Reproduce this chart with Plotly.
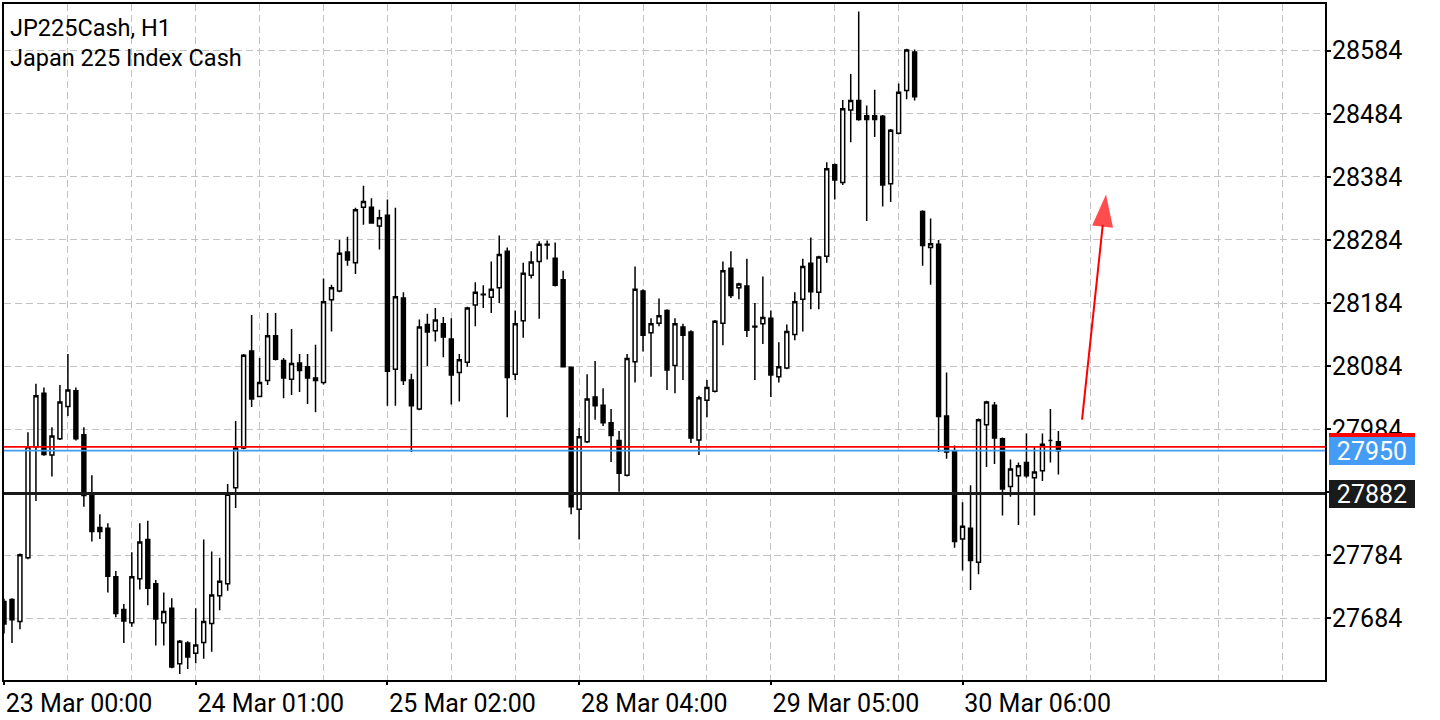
import plotly.graph_objects as go

# ---- data ----
opens = [27711, 27714, 27679, 27780, 27956, 28041, 27943, 27969, 28020, 28045,
         27975, 27882, 27828, 27827, 27750, 27698, 27677, 27747, 27809, 27739,
         27677, 27700, 27612, 27645, 27629, 27646, 27676, 27720, 27739, 27891,
         27954, 28108, 28036, 28061, 28132, 28093, 28063, 28089, 28083, 28065,
         28058, 28189, 28203, 28265, 28248, 28336, 28336, 28306, 28323, 28079,
         28192, 28062, 28016, 28150, 28140, 28151, 28127, 28074, 28090, 28181,
         28198, 28193, 28208, 28266, 28071, 28156, 28228, 28250, 28277, 28255,
         28221, 28082, 27857, 27964, 28035, 28022, 27994, 27966, 27911, 28091,
         28203, 28137, 28152, 28172, 28085, 28146, 28138, 27967, 28030, 28044,
         28152, 28239, 28208, 28211, 28147, 28151, 28160, 28067, 28081, 28134,
         28190, 28247, 28201, 28258, 28403, 28375, 28490, 28505, 28481, 28481,
         28480, 28373, 28453, 28521, 28582, 28329, 28272, 28277, 28005, 27950,
         27810, 27827, 27773, 27991, 28022, 27969, 27893, 27910, 27931, 27907,
         27918, 27966, 27964]
highs = [27715, 27716, 27787, 27979, 28056, 28050, 27987, 28054, 28103, 28050,
         27987, 27911, 27849, 27835, 27759, 27707, 27789, 27835, 27839, 27745,
         27725, 27716, 27650, 27648, 27700, 27809, 27790, 27780, 27897, 27997,
         28103, 28165, 28097, 28168, 28168, 28097, 28143, 28103, 28103, 28118,
         28223, 28213, 28284, 28289, 28335, 28370, 28350, 28332, 28348, 28335,
         28201, 28072, 28158, 28167, 28176, 28162, 28160, 28103, 28178, 28217,
         28212, 28250, 28291, 28272, 28172, 28248, 28266, 28282, 28283, 28280,
         28235, 28083, 27986, 28071, 28092, 28049, 28016, 27981, 28103, 28242,
         28206, 28160, 28191, 28174, 28160, 28151, 28141, 28037, 28062, 28157,
         28250, 28266, 28216, 28254, 28184, 28226, 28172, 28122, 28150, 28201,
         28254, 28288, 28259, 28407, 28405, 28506, 28547, 28646, 28497, 28522,
         28482, 28460, 28532, 28587, 28586, 28331, 28318, 28284, 28074, 27958,
         27868, 27895, 28001, 28029, 28027, 27971, 27936, 27931, 27977, 27956,
         27977, 28016, 27981]
lows = [27660, 27645, 27667, 27778, 27870, 27942, 27909, 27967, 28005, 27966,
        27861, 27806, 27810, 27725, 27686, 27645, 27671, 27730, 27705, 27641,
        27641, 27605, 27596, 27604, 27613, 27620, 27631, 27697, 27728, 27859,
        27952, 28019, 28035, 28054, 28093, 28033, 28038, 28043, 28024, 28011,
        28055, 28139, 28201, 28243, 28230, 28308, 28310, 28269, 28021, 28021,
        28054, 27948, 28014, 28084, 28123, 28098, 28023, 28028, 28083, 28147,
        28176, 28168, 28184, 28003, 28062, 28129, 28223, 28159, 28253, 28210,
        28082, 27849, 27809, 27962, 27999, 27989, 27932, 27885, 27909, 28058,
        28107, 28067, 28147, 28046, 28041, 28062, 27962, 27943, 28003, 28042,
        28117, 28192, 28190, 28130, 28062, 28119, 28035, 28058, 28079, 28125,
        28139, 28174, 28174, 28248, 28348, 28371, 28439, 28473, 28314, 28447,
        28337, 28344, 28451, 28507, 28505, 28243, 28213, 27948, 27937, 27796,
        27760, 27729, 27754, 27924, 27929, 27847, 27877, 27832, 27907, 27847,
        27902, 27931, 27912]
closes = [27675, 27682, 27785, 27956, 28037, 27944, 27973, 28027, 28046, 27969,
          27879, 27822, 27822, 27751, 27692, 27680, 27750, 27805, 27732, 27683,
          27695, 27607, 27648, 27623, 27642, 27679, 27721, 27743, 27881, 27954,
          28101, 28032, 28058, 28132, 28095, 28065, 28088, 28077, 28065, 28061,
          28186, 28208, 28263, 28252, 28332, 28345, 28311, 28319, 28076, 28194,
          28061, 28021, 28146, 28138, 28157, 28130, 28070, 28094, 28176, 28201,
          28197, 28206, 28261, 28066, 28151, 28231, 28249, 28277, 28276, 28212,
          28083, 27861, 27972, 28032, 28021, 27994, 27974, 27914, 28096, 28206,
          28133, 28151, 28164, 28078, 28151, 28133, 27970, 28034, 28050, 28155,
          28235, 28196, 28214, 28141, 28146, 28161, 28070, 28083, 28139, 28186,
          28242, 28202, 28257, 28397, 28379, 28492, 28505, 28475, 28475, 28475,
          28371, 28458, 28518, 28585, 28511, 28275, 28278, 28004, 27948, 27806,
          27830, 27776, 27999, 28027, 27970, 27889, 27921, 27926, 27910, 27916,
          27960, 27966, 27950]
bar_index = list(range(len(closes)))

tick_index = [0, 24, 48, 72, 96, 120]
tick_labels = ["23 Mar 00:00", "24 Mar 01:00", "25 Mar 02:00",
               "28 Mar 04:00", "29 Mar 05:00", "30 Mar 06:00"]
price_ticks = [27684, 27784, 27884, 27984, 28084, 28184, 28284, 28384, 28484, 28584]

ask_price = 27956
bid_price = 27950
level_price = 27882

arrow_x = [134.96, 137.96]
arrow_y = [27999, 28356]

title_lines = ["JP225Cash, H1", "Japan 225 Index Cash"]

FONT = "Roboto"
GRID = "#c3c3c3"
BLUE = "#459cf5"
AXFONT = 25

fig = go.Figure()

fig.add_trace(go.Candlestick(
    x=bar_index, open=opens, high=highs, low=lows, close=closes,
    increasing=dict(fillcolor="white", line=dict(color="black", width=1.5)),
    decreasing=dict(fillcolor="black", line=dict(color="black", width=1.5)),
    whiskerwidth=0, showlegend=False, hoverinfo="skip",
))

# user-drawn red arrow
fig.add_trace(go.Scatter(
    x=arrow_x, y=arrow_y, mode="lines+markers",
    line=dict(color="red", width=2),
    marker=dict(symbol=["circle", "arrow"], size=[0, 34], color="red",
                angleref="previous", line=dict(width=0)),
    showlegend=False, hoverinfo="skip",
))

# horizontal price lines
fig.add_shape(type="line", xref="paper", x0=0, x1=1, yref="y", y0=ask_price, y1=ask_price,
              line=dict(color="red", width=1.7), layer="above")
fig.add_shape(type="line", xref="paper", x0=0, x1=1, yref="y", y0=bid_price, y1=bid_price,
              line=dict(color=BLUE, width=1.7), layer="above")
fig.add_shape(type="line", xref="paper", x0=0, x1=1, yref="y", y0=level_price, y1=level_price,
              line=dict(color="#1a1a1a", width=3), layer="above")

# price labels on right axis
def price_box(price, bg, fg):
    fig.add_annotation(
        xref="paper", x=1, xanchor="left", xshift=4,
        yref="y", y=price, yanchor="middle",
        text=str(price), showarrow=False,
        font=dict(family=FONT, size=AXFONT, color=fg),
        bgcolor=bg, bordercolor=bg, borderwidth=1, borderpad=2,
        width=80, height=22, align="center",
    )

price_box(ask_price, "red", "red")
price_box(bid_price, BLUE, "white")
price_box(level_price, "#1a1a1a", "white")

# title text top-left
fig.add_annotation(xref="paper", yref="paper", x=0, y=1, xanchor="left", yanchor="top",
                   xshift=4, yshift=-8, text=title_lines[0], showarrow=False,
                   font=dict(family=FONT, size=23.5, color="black"), borderpad=1)
fig.add_annotation(xref="paper", yref="paper", x=0, y=1, xanchor="left", yanchor="top",
                   xshift=4, yshift=-38, text=title_lines[1], showarrow=False,
                   font=dict(family=FONT, size=23.5, color="black"), borderpad=1)

fig.update_layout(
    width=1440, height=720,
    margin=dict(l=2, r=115, t=2, b=37),
    paper_bgcolor="white", plot_bgcolor="white",
    font=dict(family=FONT, size=AXFONT, color="black"),
    showlegend=False, hovermode=False,
)

fig.update_xaxes(
    range=[0, 165.375], rangeslider=dict(visible=False),
    tickmode="array", tickvals=tick_index, ticktext=tick_labels,
    ticklabelposition="outside right",
    ticks="outside", ticklen=3, tickwidth=1.5, tickcolor="black",
    showline=True, linecolor="black", linewidth=2, mirror=True,
    showgrid=True, gridcolor=GRID, gridwidth=1, griddash="7px,4px",
    minor=dict(dtick=8, tick0=0, showgrid=True, gridcolor=GRID, gridwidth=1,
               griddash="7px,4px", ticks=""),
    zeroline=False,
    tickfont=dict(family=FONT, size=AXFONT, color="black"),
)

fig.update_yaxes(
    side="right", range=[27586.4, 28658],
    tickmode="array", tickvals=price_ticks, ticktext=[str(v) for v in price_ticks],
    ticks="",
    showline=True, linecolor="black", linewidth=2, mirror=True,
    showgrid=True, gridcolor=GRID, gridwidth=1, griddash="7px,4px",
    minor=dict(dtick=100, tick0=price_ticks[0], ticks="outside", ticklen=4,
               tickwidth=1.5, tickcolor="black", showgrid=False),
    zeroline=False,
    tickfont=dict(family=FONT, size=AXFONT, color="black"),
)

fig.write_html("out.html", config={"displayModeBar": False},
               post_script="document.body.style.margin='0';")
